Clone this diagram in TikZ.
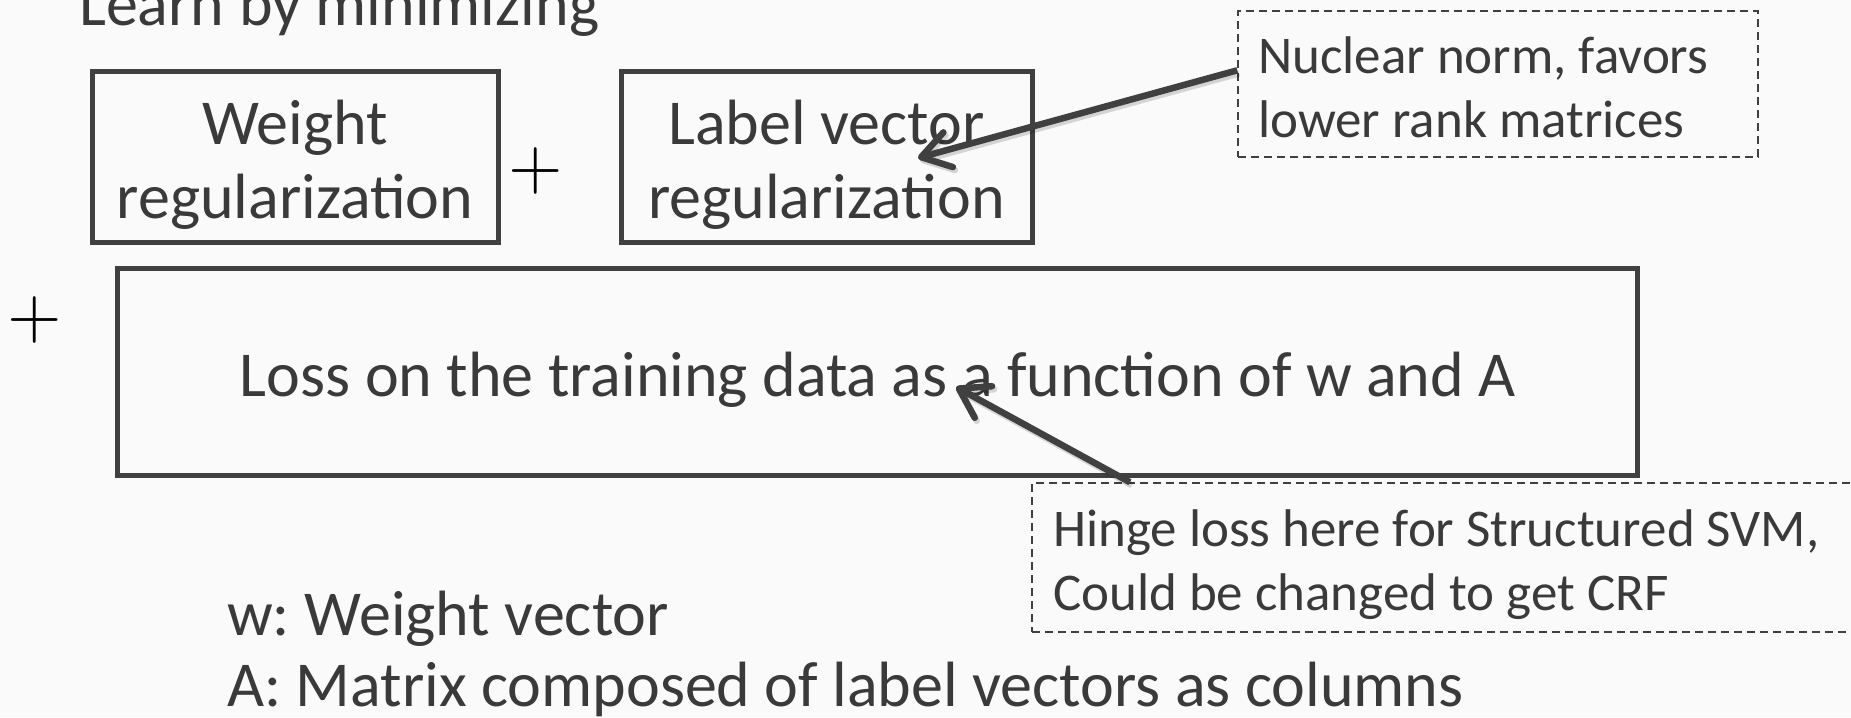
\documentclass[tikz,border=0pt]{standalone}
\usepackage{fontspec}
\setmainfont{Carlito}
\newfontfamily\plusfont{lmroman10-regular.otf}
\frenchspacing
\usetikzlibrary{arrows.meta}
\definecolor{pagebg}{HTML}{FAFAFA}
\definecolor{ink}{HTML}{3A3A3A}
\definecolor{rulegray}{HTML}{404040}
\tikzset{
  big/.style={font=\fontsize{64}{74}\selectfont, text=ink, inner sep=0pt},
  small/.style={font=\fontsize{53}{64}\selectfont, text=ink, inner sep=0pt},
  termbox/.style={draw=rulegray, line width=5pt, inner sep=0pt},
  notebox/.style={draw=rulegray, line width=1.5pt, dash pattern=on 8pt off 5pt, inner sep=0pt},
  pointer/.style={draw=rulegray, line width=6.5pt,
    -{Straight Barb[length=28pt,width=36pt,round]}},
  pointershadow/.style={pointer, draw=black, opacity=0.15},
  plussign/.style={font=\plusfont\fontsize{70}{70}\selectfont, text=black, inner sep=0pt},
}
\begin{document}
\begin{tikzpicture}[x=1pt,y=-1pt]
\fill[pagebg] (0,0) rectangle (1851,717);
\useasboundingbox (0,0) rectangle (1851,717);

% heading and legend
\node[big, anchor=base west] (title) at (79,26) {Learn by minimizing};
\node[big, anchor=base west] (wdef) at (227,635) {w: Weight vector};
\node[big, anchor=base west] (adef) at (227,706) {A: Matrix composed of label vectors as columns};

% objective terms (multi-line texts are anchored on their last baseline)
\node[termbox, minimum width=406pt, minimum height=171pt] (wreg) at (295,156.5) {};
\node[termbox, minimum width=411pt, minimum height=171pt] (lreg) at (826.5,156.5) {};
\node[termbox, minimum width=1520pt, minimum height=207pt] (loss) at (877,371.5) {};
\node[big, align=center, anchor=base] (wregtext) at (295,218) {Weight\\regularization};
\node[big, align=center, anchor=base] (lregtext) at (826.5,218) {Label vector\\regularization};
\node[big, anchor=base] (losstext) at (878,396) {Loss on the training data as a function of w and A};

\node[plussign] (plusa) at (536,170.5) {+};
\node[plussign] (plusb) at (35,320) {+};

% side notes
\node[notebox, minimum width=520pt, minimum height=146pt] (nuc) at (1498,84) {};
\node[notebox, minimum width=848pt, minimum height=149pt] (hinge) at (1456,557.5) {};
\node[small, align=left, anchor=base west] (nuctext) at (1258,137) {Nuclear norm, favors\\lower rank matrices};
\node[small, align=left, anchor=base west] (hingetext) at (1053,610) {Hinge loss here for Structured SVM,\\Could be changed to get CRF};

% pointers from notes to terms
\coordinate (nuctip) at (918,158);
\coordinate (losstip) at (956,387);
\begin{scope}[transform canvas={shift={(2pt,-3pt)}}]
\draw[pointershadow] (nuc.177) -- (nuctip);
\draw[pointershadow] (hinge.167.5) -- (losstip);
\end{scope}
\draw[pointer] (nuc.177) -- (nuctip);
\draw[pointer] (hinge.167.5) -- (losstip);
\end{tikzpicture}
\end{document}
